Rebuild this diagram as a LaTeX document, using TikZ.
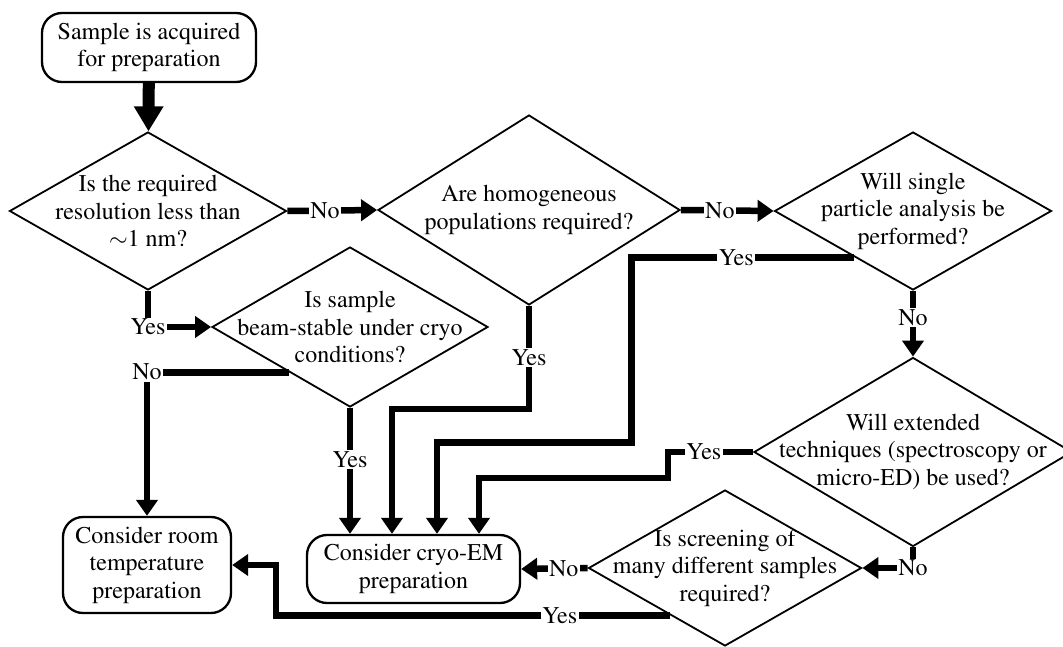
\documentclass[tikz,border=0pt]{standalone}
\usepackage[T1]{fontenc}
\usepackage{mathptmx}
\usepackage{tikz}
\usetikzlibrary{arrows.meta,shapes.geometric,calc}
\tikzset{box/.style={draw,line width=2.3pt,rounded corners=20pt,align=center,inner sep=0pt,font=\fontsize{24}{27.5}\selectfont},
ask/.style={draw,diamond,line width=1.8pt,align=center,inner sep=-40pt,font=\fontsize{24}{27.5}\selectfont},
flow/.style={line width=6.5pt,-{Triangle[width=21pt,length=16pt]}},
lbl/.style={fill=white,inner sep=1.5pt,font=\fontsize{24}{27.5}\selectfont}}

\begin{document}
\begin{tikzpicture}[x=1pt,y=-1pt]
\useasboundingbox (0,0) rectangle (1063,647);
\node[box,minimum width=214pt,minimum height=69pt] (start) at (149,47.5) {Sample is acquired\\for preparation};
\node[ask,minimum width=277pt,minimum height=158pt] (reso) at (148,211) {Is the required\\resolution less than\\$\sim$1 nm?};
\node[ask,minimum width=302pt,minimum height=190pt] (homog) at (529,210) {Are homogeneous\\populations required?};
\node[ask,minimum width=277pt,minimum height=158pt] (spa) at (913,211) {Will single\\particle analysis be\\performed?};
\node[ask,minimum width=276pt,minimum height=160pt] (beam) at (350,327) {Is sample\\beam-stable under cryo\\conditions?};
\node[ask,minimum width=318pt,minimum height=189pt] (ext) at (913,452) {Will extended\\techniques (spectroscopy or\\micro-ED) be used?};
\node[ask,minimum width=273pt,minimum height=156pt] (screen) at (725,568) {Is screening of\\many different samples\\required?};
\node[box,minimum width=213pt,minimum height=68pt] (cryo) at (413.5,569) {Consider cryo-EM\\preparation};
\node[box,minimum width=168pt,minimum height=96pt] (room) at (147,565) {Consider room\\temperature\\preparation};
\draw[line width=12pt,-{Triangle[width=28pt,length=25pt]}] (start) -- (reso);
\draw[flow] (reso.east) -- node[lbl,pos=0.42]{No} (homog.west);
\draw[flow] (homog.east) -- node[lbl,pos=0.42]{No} (spa.west);
\draw[flow] (spa.south) -- node[lbl,pos=0.41]{No} (ext.north);
\draw[flow] (reso.south) |- node[lbl]{Yes} (beam.west);
\draw[flow] ($(beam.west)!0.56!(beam.south)$) -| node[lbl,pos=0.5]{No} (room.north);
\draw[flow] (beam.south) -- node[lbl,pos=0.41]{Yes} ([xshift=-63.5pt]cryo.north);
\draw[flow] (homog.south) -- node[lbl]{Yes} ++(0,103) -| ([xshift=-21.5pt]cryo.north);
\draw[flow] ($(spa.west)!0.58!(spa.south)$) -- node[lbl,pos=0.53]{Yes} ++(-223,0) -- ++(0,185) -| ([xshift=23.5pt]cryo.north);
\draw[flow] (ext.west) -- node[lbl,pos=0.58]{Yes} ++(-85,0) -- ++(0,26) -| ([xshift=65.5pt]cryo.north);
\draw[flow] (ext.south) |- node[lbl]{No} (screen.east);
\draw[flow] (screen.west) -- node[lbl,pos=0.36]{No} (cryo.east);
\draw[flow] ($(screen.west)!0.6!(screen.south)$) -- node[lbl,pos=0.28]{Yes} ++(-394,0) |- (room.east);
\end{tikzpicture}
\end{document}
